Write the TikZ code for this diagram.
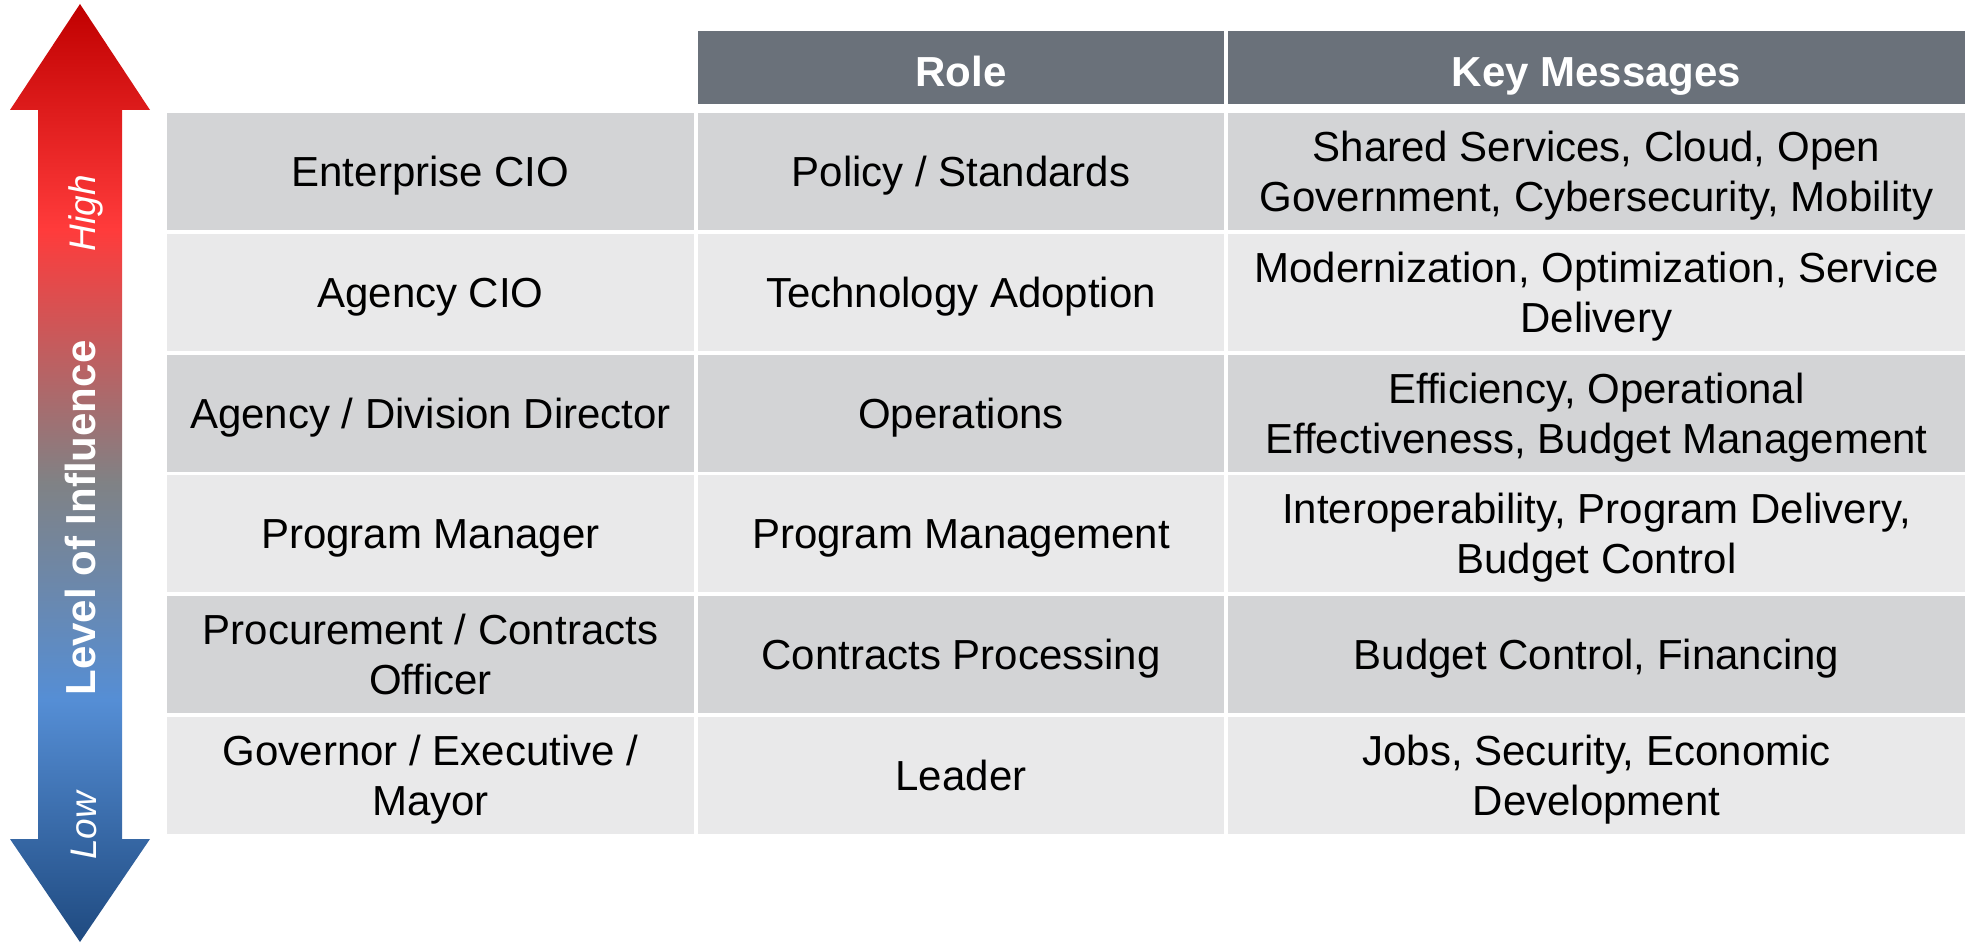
\documentclass[tikz,border=0pt]{standalone}
\usepackage{fontspec}
\setmainfont{Liberation Sans}
\usetikzlibrary{shadings}

\definecolor{headgray}{HTML}{6A717A}
\definecolor{rowdark}{HTML}{D3D4D6}
\definecolor{rowlight}{HTML}{E9E9EA}
\definecolor{infred}{HTML}{C00000}
\definecolor{infbright}{HTML}{FF3B3B}
\definecolor{infgray}{HTML}{808285}
\definecolor{infblue}{HTML}{558ED5}
\definecolor{infnavy}{HTML}{1F4A80}
\pgfdeclareverticalshading{influence}{100bp}{color(0bp)=(infnavy); color(25bp)=(infnavy); color(37.9bp)=(infblue); color(49.5bp)=(infgray); color(63bp)=(infbright); color(75bp)=(infred); color(100bp)=(infred)}

\begin{document}
\begin{tikzpicture}[x=0.5pt, y=-0.5pt,
    cell/.style={minimum height=58.5pt, inner sep=0pt, align=center, text height=17pt, text depth=2pt, font=\fontsize{21}{25}\selectfont},
    twolines/.style={text height=42pt, text depth=2pt},
    head/.style={cell, fill=headgray, text=white, minimum height=36.5pt, text height=19pt, text depth=0pt, font=\fontsize{21}{25}\selectfont\bfseries},
    first/.style={cell, minimum width=263.5pt},
    role/.style={cell, minimum width=263pt},
    msg/.style={cell, minimum width=368.5pt},
    tag/.style={rotate=90, text=white, font=\fontsize{18.5}{22}\selectfont\itshape}]
  \useasboundingbox (0,0) rectangle (1969,945);

  % Draw the double arrow
  \shade[shading=influence] (80,4) -- (150,110) -- (122,110) -- (122,839) -- (150,839)
    -- (80,942) -- (10,839) -- (38,839) -- (38,110) -- (10,110) -- cycle;

  % Label the arrow
  \node[tag] (high) at (86,213) {High};
  \node[rotate=90, text=white, font=\fontsize{21}{25}\selectfont\bfseries] (level) at (80.5,518) {Level of Influence};
  \node[tag] (low) at (83.5,826) {Low};

  % Header row
  \node[head, minimum width=263pt] (rolehead) at (961,67.5) {Role};
  \node[head, minimum width=368.5pt] (msghead) at (1596.5,67.5) {Key Messages};

  % Row 1
  \node[first, fill=rowdark] (cio) at (430.5,171.5) {Enterprise CIO};
  \node[role, fill=rowdark] (ciorole) at (961,171.5) {Policy / Standards};
  \node[msg, twolines, fill=rowdark] (ciomsg) at (1596.5,171.5) {Shared Services, Cloud, Open\\Government, Cybersecurity, Mobility};

  % Row 2
  \node[first, fill=rowlight] (agency) at (430.5,292.3) {Agency CIO};
  \node[role, fill=rowlight] (agencyrole) at (961,292.3) {Technology Adoption};
  \node[msg, twolines, fill=rowlight] (agencymsg) at (1596.5,292.3) {Modernization, Optimization, Service\\Delivery};

  % Row 3
  \node[first, fill=rowdark] (director) at (430.5,413.1) {Agency / Division Director};
  \node[role, fill=rowdark] (directorrole) at (961,413.1) {Operations};
  \node[msg, twolines, fill=rowdark] (directormsg) at (1596.5,413.1) {Efficiency, Operational\\Effectiveness, Budget Management};

  % Row 4
  \node[first, fill=rowlight] (manager) at (430.5,533.9) {Program Manager};
  \node[role, fill=rowlight] (managerrole) at (961,533.9) {Program Management};
  \node[msg, twolines, fill=rowlight] (managermsg) at (1596.5,533.9) {Interoperability, Program Delivery,\\Budget Control};

  % Row 5
  \node[first, twolines, fill=rowdark] (officer) at (430.5,654.7) {Procurement / Contracts\\Officer};
  \node[role, fill=rowdark] (officerrole) at (961,654.7) {Contracts Processing};
  \node[msg, fill=rowdark] (officermsg) at (1596.5,654.7) {Budget Control, Financing};

  % Row 6
  \node[first, twolines, fill=rowlight] (mayor) at (430.5,775.5) {Governor / Executive /\\Mayor};
  \node[role, fill=rowlight] (mayorrole) at (961,775.5) {Leader};
  \node[msg, twolines, fill=rowlight] (mayormsg) at (1596.5,775.5) {Jobs, Security, Economic\\Development};
\end{tikzpicture}
\end{document}
